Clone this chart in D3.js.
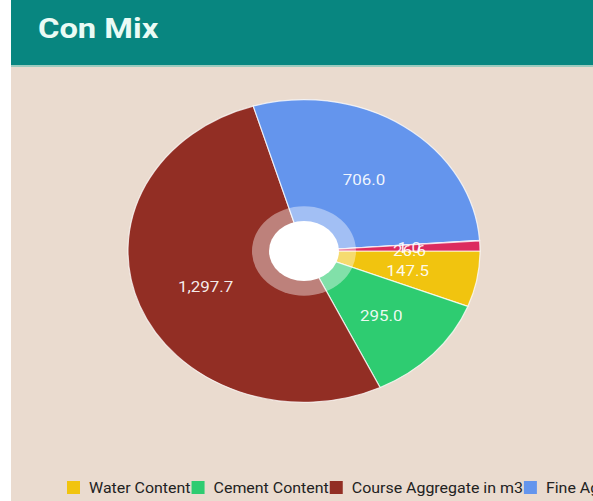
<!DOCTYPE html>
<html>
<head>
<meta charset="utf-8">
<script src="https://cdn.jsdelivr.net/npm/d3@7"></script>
<style>
html,body{margin:0;padding:0;background:#fff;overflow:hidden;}
svg{display:block;}
</style>
</head>
<body>
<svg id="chart" width="593" height="501"></svg>
<script>
const title = "Con Mix";
const categories = ["Water Content", "Cement Content", "Course Aggregate in m3", "Fine Aggregate in m3", "Admixture", "Air Content"];
const values = [147.5, 295.0, 1297.7, 706.0, 1.0, 26.6];
const colors = ["#F1C40F", "#2ECC71", "#922E24", "#6495ED", "#9B59B6", "#DC2B5E"];

const svg = d3.select("#chart");
const W = 593, H = 501;
const sx = 1.13; // horizontal stretch of the screenshot
const sxLegend = 1.10;

// page background
svg.append("rect").attr("x", 11).attr("y", 0).attr("width", W - 11).attr("height", H).attr("fill", "#EADBCF");
// header
svg.append("rect").attr("x", 11).attr("y", 0).attr("width", W - 11).attr("height", 65).attr("fill", "#088680");
svg.append("rect").attr("x", 11).attr("y", 65).attr("width", W - 11).attr("height", 2).attr("fill", "#9CCBBE");
svg.append("text").attr("transform", `translate(38,38) scale(1.19,1)`).text(title)
  .attr("font-family", "Roboto, sans-serif").attr("font-weight", "bold").attr("font-size", 27.5)
  .attr("fill", "#EAFBF5");

// pie
const cx = 304, cy = 251, R = 176, ky = 0.86, holeR = 35, ringR = 52;
const pie = d3.pie().sort(null).value(d => d)
  .startAngle(Math.PI / 2).endAngle(Math.PI / 2 + 2 * Math.PI);
const arcs = pie(values);
const arc = d3.arc().innerRadius(0).outerRadius(R);
const labelArc = d3.arc().innerRadius(holeR).outerRadius(R);

const g = svg.append("g").attr("transform", `translate(${cx},${cy}) scale(1,${ky})`);
g.selectAll("path.slice").data(arcs).enter().append("path")
  .attr("class", "slice")
  .attr("d", arc)
  .attr("fill", (d, i) => colors[i])
  .attr("stroke", "rgba(255,255,255,0.75)")
  .attr("stroke-width", 1.2)
  .attr("vector-effect", "non-scaling-stroke");

g.append("circle").attr("r", ringR).attr("fill", "#fff").attr("fill-opacity", 0.4);
g.append("circle").attr("r", holeR).attr("fill", "#fff");

const fmt = d3.format(",.1f");
const lg = svg.append("g").attr("transform", `translate(${cx},${cy})`);
lg.selectAll("text").data(arcs).enter().append("text")
  .attr("transform", d => {
    const c = labelArc.centroid(d);
    return `translate(${c[0]},${c[1] * ky + 3}) scale(${sx},1)`;
  })
  .attr("dy", "0.35em")
  .attr("text-anchor", "middle")
  .attr("font-family", "Roboto, sans-serif")
  .attr("font-size", 15)
  .attr("fill", "#fff")
  .attr("fill-opacity", 0.92)
  .text(d => fmt(d.value));

// legend
const legend = svg.append("g");
let lx = 67;
const ly = 488;
categories.forEach((c, i) => {
  legend.append("rect").attr("x", lx).attr("y", ly - 7).attr("width", 13).attr("height", 13).attr("fill", colors[i]);
  const t = legend.append("text").attr("transform", `translate(${lx + 22},${ly}) scale(${sxLegend},1)`).attr("dy", "0.35em")
    .attr("font-family", "Roboto, sans-serif").attr("font-size", 14.5).attr("fill", "#222")
    .text(c);
  lx = lx + 22 + t.node().getComputedTextLength() * sxLegend + 1;
});
</script>
</body>
</html>
